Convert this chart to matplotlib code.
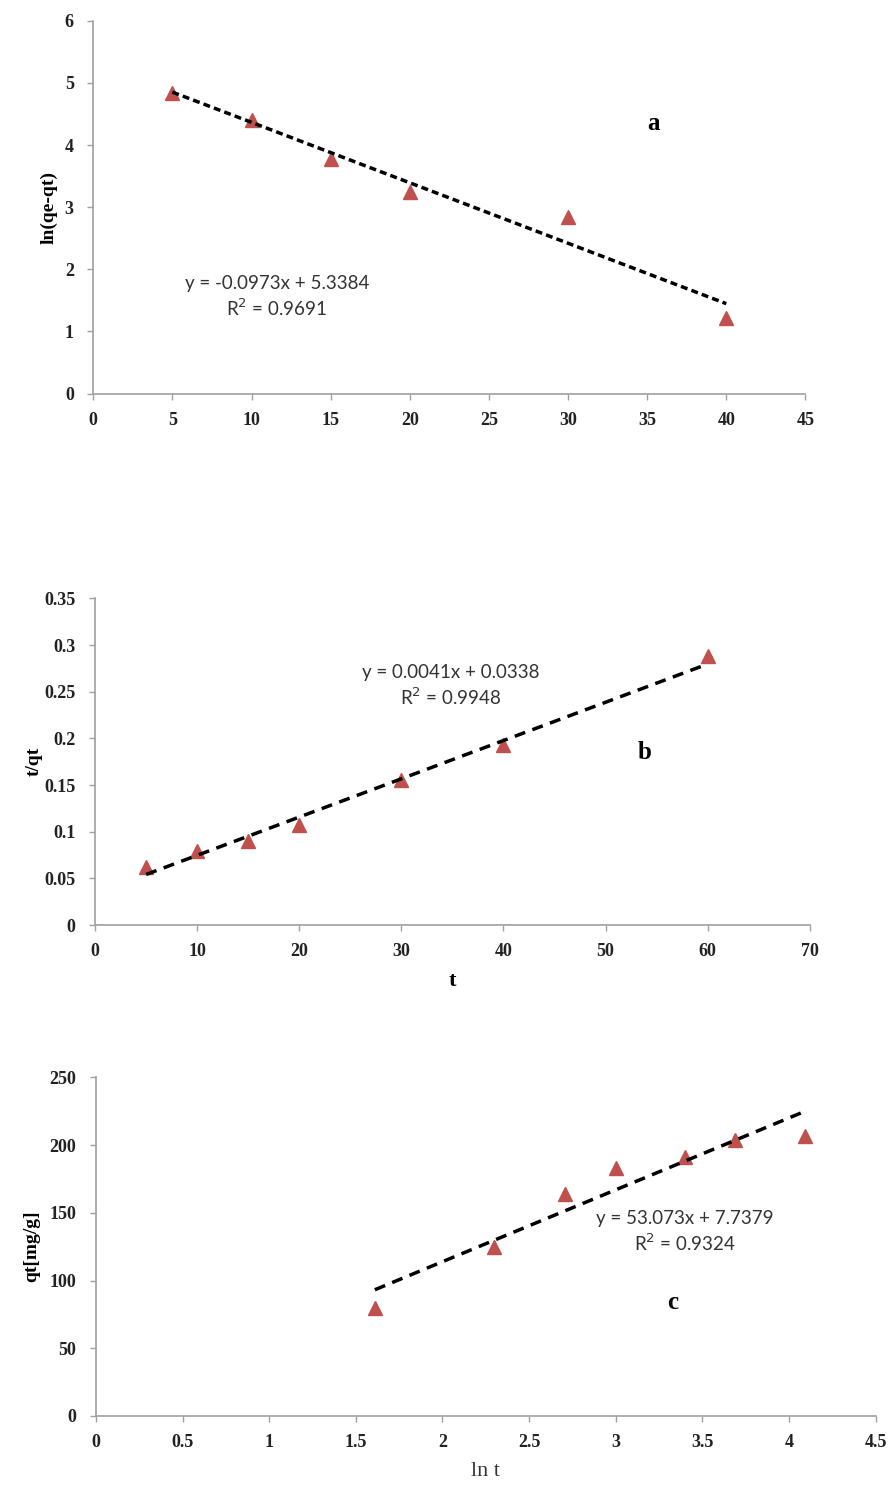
import matplotlib.pyplot as plt
import numpy as np

# panel a: pseudo-first-order
t_a = [5, 10, 15, 20, 30, 40]
ln_qe_qt = [4.83, 4.40, 3.78, 3.24, 2.84, 1.21]

# panel b: pseudo-second-order
t_b = [5, 10, 15, 20, 30, 40, 60]
t_over_qt = [0.062, 0.079, 0.090, 0.107, 0.155, 0.193, 0.288]

# panel c: intraparticle / Elovich
ln_t = [1.61, 2.30, 2.71, 3.00, 3.40, 3.69, 4.09]
qt = [80, 125, 164, 183, 191, 204, 207]

# fits reported on the chart
fit_a = (-0.0973, 5.3384)
fit_b = (0.0041, 0.0338)
fit_c = (53.073, 7.7379)

red = '#C0504D'
serif = 'Liberation Serif'
sans = 'Lato'

fig = plt.figure(figsize=(8.88, 14.85), dpi=100)
ax_a = fig.add_axes([0.105, 0.735, 0.802, 0.251])
ax_b = fig.add_axes([0.107, 0.377, 0.805, 0.220])
ax_c = fig.add_axes([0.108, 0.0465, 0.878, 0.228])


def style(ax):
    for s in ['top', 'right']:
        ax.spines[s].set_visible(False)
    for s in ['left', 'bottom']:
        ax.spines[s].set_color('#a0a0a0')
        ax.spines[s].set_linewidth(1.2)
    ax.tick_params(direction='out', length=4, width=1, color='#a0a0a0',
                   labelsize=13, labelcolor='#222222')
    ax.tick_params(axis='x', pad=9)
    ax.tick_params(axis='y', pad=10)
    for lab in ax.get_xticklabels() + ax.get_yticklabels():
        lab.set_fontfamily(serif)
        lab.set_fontweight('bold')


def draw(ax, x, y, fit, dash):
    ax.plot(x, y, linestyle='none', marker='^', markersize=10.5,
            color=red, markeredgecolor=red)
    xs = np.array([x[0], x[-1]])
    ax.plot(xs, fit[0] * xs + fit[1], color='black', linewidth=2.5,
            linestyle=dash)


eq_kw = dict(ha='center', va='center', fontfamily=sans, fontsize=13.5,
             linespacing=1.3, color='#333333')
tag_kw = dict(fontfamily=serif, fontweight='bold', fontsize=18,
              ha='center', va='center')

# a
draw(ax_a, t_a, ln_qe_qt, fit_a, (0, (2.0, 1.2)))
ax_a.set_xlim(0, 45)
ax_a.set_ylim(0, 6)
ax_a.set_xticks(range(0, 50, 5))
ax_a.set_yticks(range(0, 7))
ax_a.set_ylabel('ln(qe-qt)', fontfamily=serif, fontweight='bold', fontsize=14,
                labelpad=5)
ax_a.text(11.6, 1.55, 'y = -0.0973x + 5.3384\nR$^2$ = 0.9691', **eq_kw)
ax_a.text(35.4, 4.34, 'a', **tag_kw)
style(ax_a)

# b
draw(ax_b, t_b, t_over_qt, fit_b, (0, (3.2, 2.2)))
ax_b.set_xlim(0, 70)
ax_b.set_ylim(0, 0.35)
ax_b.set_xticks(range(0, 80, 10))
ax_b.set_yticks([0, 0.05, 0.1, 0.15, 0.2, 0.25, 0.3, 0.35])
ax_b.set_yticklabels(['0', '0.05', '0.1', '0.15', '0.2', '0.25', '0.3', '0.35'])
ax_b.set_ylabel('t/qt', fontfamily=serif, fontweight='bold', fontsize=14,
                labelpad=1)
ax_b.set_xlabel('t', fontfamily=serif, fontweight='bold', fontsize=16,
                labelpad=8)
ax_b.text(34.8, 0.256, 'y = 0.0041x + 0.0338\nR$^2$ = 0.9948', **eq_kw)
ax_b.text(53.8, 0.185, 'b', **tag_kw)
style(ax_b)

# c
draw(ax_c, ln_t, qt, fit_c, (0, (3.2, 2.2)))
ax_c.set_xlim(0, 4.5)
ax_c.set_ylim(0, 250)
ax_c.set_xticks([0, 0.5, 1, 1.5, 2, 2.5, 3, 3.5, 4, 4.5])
ax_c.set_xticklabels(['0', '0.5', '1', '1.5', '2', '2.5', '3', '3.5', '4', '4.5'])
ax_c.set_yticks(range(0, 300, 50))
ax_c.set_ylabel('qt[mg/g]', fontfamily=serif, fontweight='bold', fontsize=14,
                labelpad=7)
ax_c.set_xlabel('ln t', fontfamily=serif, fontsize=16, color='#333333',
                labelpad=8)
ax_c.text(3.40, 136, 'y = 53.073x + 7.7379\nR$^2$ = 0.9324', **eq_kw)
ax_c.text(3.33, 84, 'c', **tag_kw)
style(ax_c)

plt.savefig('out.png', dpi=100)
